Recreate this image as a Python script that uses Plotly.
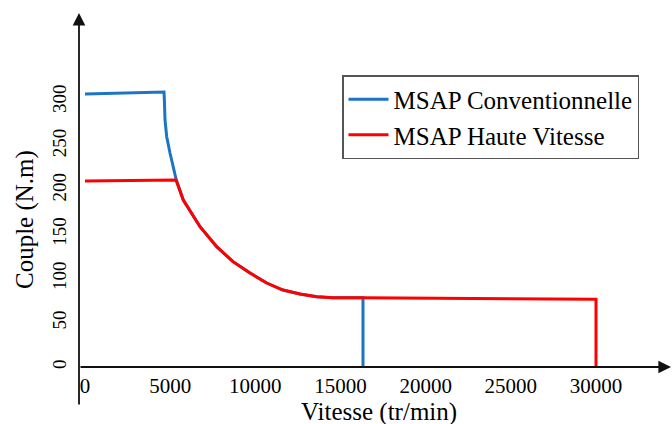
import plotly.graph_objects as go

# ---- data ----
speed_conv = [0, 4638, 4660, 4697, 4797, 4990, 5343, 5771, 6752, 7732, 8689, 9687,
              10668, 11624, 12622, 13603, 14560, 15558, 16321, 16321]
torque_conv = [308.5, 310.7, 301.7, 279.1, 260.2, 241.8, 212.5, 188.7, 158.5, 135.9, 119.0, 106.2,
               94.9, 87.0, 82.5, 79.4, 78.3, 78.3, 78.3, 0]

speed_hv = [0, 5343, 5771, 6752, 7732, 8689, 9687, 10668, 11624, 12622, 13603, 14560,
            15558, 16321, 30000, 30000]
torque_hv = [210.2, 211.3, 188.7, 158.5, 135.9, 119.0, 106.2, 94.9, 87.0, 82.5, 79.4, 78.3,
             78.3, 78.3, 76.5, 0]

x_ticks = [0, 5000, 10000, 15000, 20000, 25000, 30000]
x_tick_text = ["0", "5000", "10000", "15000", "20000", "25000", "30000"]
y_ticks = [0, 50, 100, 150, 200, 250, 300]
y_tick_text = ["0", "50", "100", "150", "200", "250", "300"]

name_conv = "MSAP Conventionnelle"
name_hv = "MSAP Haute Vitesse"
x_title = "Vitesse (tr/min)"
y_title = "Couple (N.m)"

FONT = "Liberation Serif"

fig = go.Figure()
fig.add_trace(go.Scatter(x=speed_conv, y=torque_conv, mode="lines", name=name_conv,
                         line=dict(color="#1C75C4", width=3)))
fig.add_trace(go.Scatter(x=speed_hv, y=torque_hv, mode="lines", name=name_hv,
                         line=dict(color="#FF0000", width=3)))

W, H = 672, 424
L, R, T, B = 79, 4, 15, 57
pw, ph = W - L - R, H - T - B
sx = (596 - 85) / 30000.0
x0 = -(85 - L) / sx
sy = 0.885

fig.update_layout(
    width=W, height=H,
    margin=dict(l=L, r=R, t=T, b=B),
    paper_bgcolor="white", plot_bgcolor="white",
    font=dict(family=FONT, color="black"),
    showlegend=True,
    legend=dict(x=(342 - L) / pw, y=(H - B - 75) / ph, xanchor="left", yanchor="top",
                bgcolor="white", bordercolor="#555555", borderwidth=1.5, itemwidth=40,
                font=dict(family=FONT, size=25, color="black")),
    xaxis=dict(range=[x0, x0 + pw / sx], showgrid=False, zeroline=False, showline=False,
               tickvals=x_ticks, ticktext=x_tick_text, ticks="", ticklabelstandoff=4,
               tickfont=dict(family=FONT, size=21, color="black")),
    yaxis=dict(range=[0, ph / sy], showgrid=False, zeroline=False, showline=False,
               tickvals=y_ticks, ticktext=y_tick_text, ticks="", tickangle=-90,
               ticklabelstandoff=8,
               tickfont=dict(family=FONT, size=19, color="black")),
)

# axes with arrows
fig.add_annotation(xref="paper", yref="paper", x=0, y=(H - B - 13) / ph, text="",
                   showarrow=True, ax=0, ay=406 - 13, arrowhead=2, arrowsize=1.4,
                   arrowwidth=1.8, arrowcolor="#111111", standoff=0)
fig.add_annotation(xref="paper", yref="paper", x=(671 - L) / pw, y=0, text="",
                   showarrow=True, ax=-(671 - L), ay=0, arrowhead=2, arrowsize=1.4,
                   arrowwidth=1.8, arrowcolor="#111111", standoff=0)

# axis titles
fig.add_annotation(xref="paper", yref="paper", x=(25 - L) / pw, y=(H - B - 220) / ph,
                   xanchor="center", yanchor="middle",
                   text=y_title, textangle=-90, showarrow=False,
                   font=dict(family=FONT, size=25, color="black"))
fig.add_annotation(xref="paper", yref="paper", x=(379 - L) / pw, y=(H - B - 412) / ph,
                   xanchor="center", yanchor="middle",
                   text=x_title, showarrow=False,
                   font=dict(family=FONT, size=25, color="black"))

fig.write_html("out.html")
